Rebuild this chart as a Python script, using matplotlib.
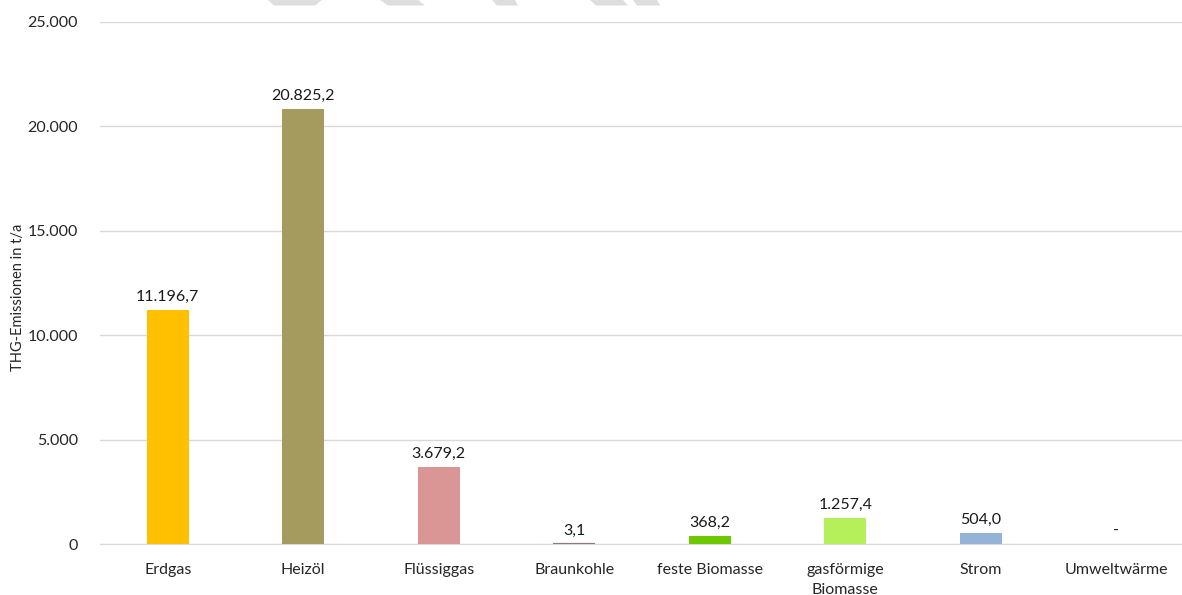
import matplotlib.pyplot as plt
from matplotlib.patches import Polygon

categories = ['Erdgas', 'Heizöl', 'Flüssiggas', 'Braunkohle', 'feste Biomasse',
              'gasförmige\nBiomasse', 'Strom', 'Umweltwärme']
values = [11196.7, 20825.2, 3679.2, 3.1, 368.2, 1257.4, 504.0, 0.0]
labels = ['11.196,7', '20.825,2', '3.679,2', '3,1', '368,2', '1.257,4', '504,0', '-']
colors = ['#FFC000', '#A59B5F', '#D99694', '#8C7B80', '#6CC800',
          '#B5F05A', '#95B3D7', '#95B3D7']
yticks = [0, 5000, 10000, 15000, 20000, 25000]
ytick_labels = ['0', '5.000', '10.000', '15.000', '20.000', '25.000']

plt.rcParams['font.family'] = ['Lato', 'DejaVu Sans']

W, H = 1182, 595
fig = plt.figure(figsize=(W / 100, H / 100), dpi=100)
ax = fig.add_axes([100 / W, 51 / H, 1084 / W, 522 / H])

x = range(len(categories))
bars = ax.bar(x, values, width=0.31, color=colors, linewidth=0, zorder=3)
# tiny bars (e.g. Braunkohle) still show as a thin line, like in the source
for b, v, c in zip(bars, values, colors):
    if 0 < v < 50:
        b.set_edgecolor(c)
        b.set_linewidth(1.6)
for i, (v, lab) in enumerate(zip(values, labels)):
    ax.text(i, v + 300, lab, ha='center', va='bottom', fontsize=11.5, color='#1a1a1a')

ax.set_xlim(-0.5, len(categories) - 0.5)
ax.set_ylim(0, 25000)
ax.set_yticks(yticks)
ax.set_yticklabels(ytick_labels, fontsize=11.5, color='#262626')
ax.set_xticks(list(x))
ax.set_xticklabels(categories, fontsize=11.5, color='#262626', linespacing=1.5)
ax.tick_params(axis='y', length=0, pad=16)
ax.tick_params(axis='x', length=0, pad=14)
ax.yaxis.grid(True, color='#d9d9d9', linewidth=1, zorder=0)
for s in ['top', 'right', 'left']:
    ax.spines[s].set_visible(False)
ax.spines['bottom'].set_color('#d9d9d9')
ax.spines['bottom'].set_zorder(2)
fig.text(18 / W, 1 - 297 / H, 'THG-Emissionen in t/a', rotation=90,
         ha='center', va='center', fontsize=10.5, color='#262626')

# faint watermark shapes at top edge
wm = [
    [(268, 0), (322, 0), (315, 5.5), (274, 5.5)],
    [(380, 0), (418, 0), (425, 5.5), (388, 5.5)],
    [(492, 0), (515, 0), (518, 5.5), (497, 5.5)],
    [(590, 0), (623, 0), (628, 5.5), (596, 5.5)],
    [(633, 0), (657, 0), (660, 5.5), (637, 5.5)],
]
for pts in wm:
    poly = Polygon([(px / W, 1 - py / H) for px, py in pts], closed=True,
                   transform=fig.transFigure, facecolor='#dedede', edgecolor='none', zorder=0)
    fig.patches.append(poly)

fig.savefig('out.png', dpi=100)
